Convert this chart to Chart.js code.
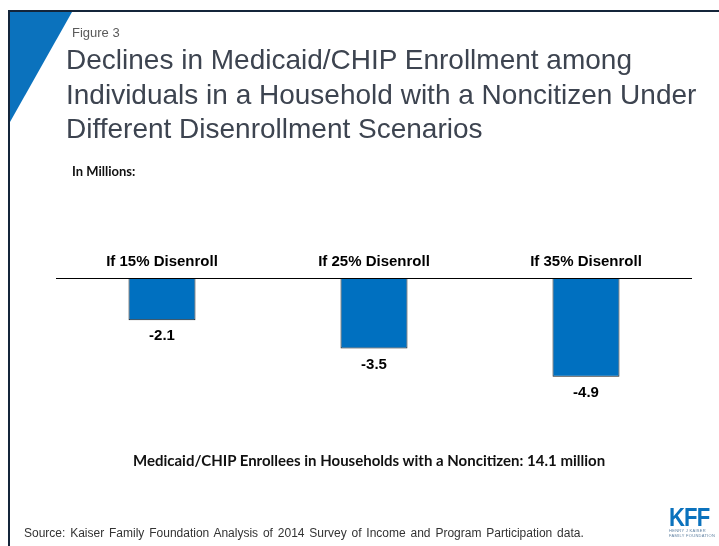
<!DOCTYPE html>
<html>
<head>
<meta charset="utf-8">
<script src="https://cdn.jsdelivr.net/npm/chart.js@4"></script>
<style>
  html, body { margin: 0; padding: 0; background: #fff; }
  #page { position: relative; width: 719px; height: 546px; overflow: hidden; font-family: 'Liberation Sans', Arial, sans-serif; }
  #chart { position: absolute; left: 0; top: 0; }
  .frame-top  { position: absolute; left: 8px; top: 10px; width: 711px; height: 2px; background: #14253a; }
  .frame-left { position: absolute; left: 8px; top: 10px; width: 2px; height: 536px; background: #14253a; }
  .corner     { position: absolute; left: 10px; top: 12px; width: 62px; height: 110px; background: #0b72bd;
                clip-path: polygon(0 0, 100% 0, 0 100%); }
  .txt { position: absolute; white-space: nowrap; }
  #fig   { left: 72px; top: 25px; font-size: 13px; color: #5a5a5a; }
  #title { left: 66px; top: 43px; font-size: 28px; line-height: 34.5px; color: #3d4450; }
  #units { left: 72px; top: 163px; font-family: Lato, 'Open Sans', sans-serif; font-weight: bold; font-size: 13px; color: #111; }
  #total { left: 133px; top: 451px; font-family: Lato, 'Open Sans', sans-serif; font-weight: bold; font-size: 15px; color: #111; }
  #source { left: 24px; top: 526px; font-size: 12px; color: #333; word-spacing: 1.5px; }
  #logo  { position: absolute; left: 669px; top: 507px; width: 50px; color: #0b72bd; white-space: nowrap; }
  #logo .k { font-weight: bold; font-size: 26px; line-height: 21px; letter-spacing: -1px; transform: scaleX(0.85); transform-origin: left; }
  #logo .s { font-size: 4px; line-height: 5px; color: #5d7fa0; letter-spacing: 0.3px; }
</style>
</head>
<body>
<div id="page">
  <canvas id="chart" width="719" height="546"></canvas>
  <div class="frame-top"></div>
  <div class="frame-left"></div>
  <div class="corner"></div>
  <div class="txt" id="fig">Figure 3</div>
  <div class="txt" id="title">Declines in Medicaid/CHIP Enrollment among<br>Individuals in a Household with a Noncitizen Under<br>Different Disenrollment Scenarios</div>
  <div class="txt" id="units">In Millions:</div>
  <div class="txt" id="total">Medicaid/CHIP Enrollees in Households with a Noncitizen: 14.1 million</div>
  <div class="txt" id="source">Source: Kaiser Family Foundation Analysis of 2014 Survey of Income and Program Participation data.</div>
  <div id="logo"><div class="k">KFF</div><div class="s">HENRY J KAISER<br>FAMILY FOUNDATION</div></div>
</div>
<script>
// Scenario labels and the drop in enrollment (millions)
const scenarios = ['If 15% Disenroll', 'If 25% Disenroll', 'If 35% Disenroll'];
const declines  = [-2.1, -3.5, -4.9];

const BAR_BLUE = '#0070c0';

// zero baseline plus the scenario names sitting just above it
const baselinePlugin = {
  id: 'baseline',
  afterDatasetsDraw(chart) {
    const { ctx, chartArea, scales } = chart;
    const y0 = scales.y.getPixelForValue(0);
    ctx.save();
    ctx.strokeStyle = '#000';
    ctx.lineWidth = 1;
    ctx.beginPath();
    ctx.moveTo(chartArea.left, y0 + 0.5);
    ctx.lineTo(chartArea.right, y0 + 0.5);
    ctx.stroke();

    ctx.fillStyle = '#000';
    ctx.font = 'bold 15px "Liberation Sans", Arial, sans-serif';
    ctx.textAlign = 'center';
    ctx.textBaseline = 'middle';
    scenarios.forEach((s, i) => {
      ctx.fillText(s, scales.x.getPixelForValue(i), y0 - 16);
    });
    ctx.restore();
  },
};

// value under each bar
const valueLabelPlugin = {
  id: 'valueLabel',
  afterDatasetsDraw(chart) {
    const { ctx } = chart;
    const meta = chart.getDatasetMeta(0);
    meta.data.forEach((bar, i) => {
      ctx.save();
      ctx.fillStyle = '#000';
      ctx.font = 'bold 15px "Liberation Sans", Arial, sans-serif';
      ctx.textAlign = 'center';
      ctx.textBaseline = 'middle';
      ctx.fillText(declines[i].toFixed(1), bar.x, bar.y + 16);
      ctx.restore();
    });
  },
};

new Chart(document.getElementById('chart'), {
  type: 'bar',
  data: {
    labels: scenarios,
    datasets: [{
      data: declines,
      backgroundColor: BAR_BLUE,
      borderColor: '#1a1a1a',
      borderWidth: 1,
      borderSkipped: false,
      categoryPercentage: 1,
      barPercentage: 0.316,
    }],
  },
  plugins: [baselinePlugin, valueLabelPlugin],
  options: {
    responsive: false,
    animation: false,
    layout: { padding: { left: 56, right: 27, top: 278, bottom: 147 } },
    plugins: { legend: { display: false }, tooltip: { enabled: false } },
    scales: {
      x: { display: false },
      y: { display: false, min: -6, max: 0 },
    },
  },
});
</script>
</body>
</html>
